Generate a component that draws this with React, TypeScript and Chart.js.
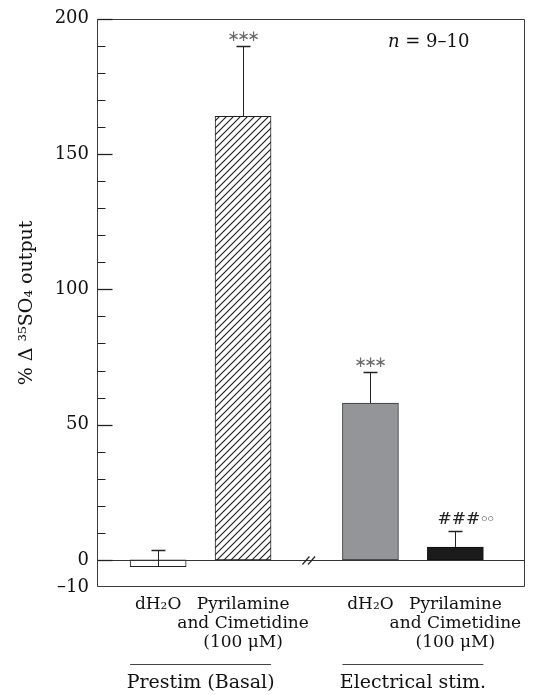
import React, { useEffect, useRef } from 'react';
import { Chart, registerables } from 'chart.js';

Chart.register(...registerables);

// ---- data ----
const categoryLabels: string[][] = [
  ['dH₂O'],
  ['Pyrilamine', 'and Cimetidine', '(100 μM)'],
  ['dH₂O'],
  ['Pyrilamine', 'and Cimetidine', '(100 μM)'],
];
const categoryPositions = [0, 1, 2.5, 3.5];
const meanValues = [-2.5, 164, 58, 4.8];
const semValues = [6, 26, 11.5, 6];
const significanceMarks = ['', '∗∗∗', '∗∗∗', '###'];
const secondaryMarks = ['', '', '', '◦◦'];
const groupLabels = ['Prestim (Basal)', 'Electrical stim.'];
const groupMembers = [
  [0, 1],
  [2, 3],
];
const yTickValues = [-10, 0, 10, 20, 30, 40, 50, 60, 70, 80, 90, 100, 110, 120, 130, 140, 150, 160, 170, 180, 190, 200];
const yLabelledTicks = [-10, 0, 50, 100, 150, 200];
const sampleSizeNote = ' = 9–10';

const SERIF = '"DejaVu Serif", serif';
const SANS = '"DejaVu Sans", sans-serif';

function makeHatch(): CanvasPattern | string {
  const s = 7;
  const c = document.createElement('canvas');
  c.width = s;
  c.height = s;
  const g = c.getContext('2d');
  if (!g) return '#fff';
  g.fillStyle = '#fff';
  g.fillRect(0, 0, s, s);
  g.strokeStyle = '#1a1a1a';
  g.lineWidth = 1.1;
  g.beginPath();
  g.moveTo(0, s);
  g.lineTo(s, 0);
  g.moveTo(-1, 1);
  g.lineTo(1, -1);
  g.moveTo(s - 1, s + 1);
  g.lineTo(s + 1, s - 1);
  g.stroke();
  const p = g.createPattern(c, 'repeat');
  return p || '#fff';
}

const overlayPlugin = {
  id: 'overlay',
  afterDatasetsDraw(chart: any) {
    const { ctx, chartArea: a, scales } = chart;
    const x = scales.x;
    const y = scales.y;
    ctx.save();

    // frame
    ctx.strokeStyle = '#3a3a3a';
    ctx.lineWidth = 1;
    const L = Math.round(a.left) + 0.5;
    const R = Math.round(a.right) - 0.5;
    const T = Math.round(a.top) + 0.5;
    const B = Math.round(a.bottom) - 0.5;
    ctx.beginPath();
    ctx.moveTo(L, T);
    ctx.lineTo(R, T);
    ctx.lineTo(R, B);
    ctx.lineTo(L, B);
    ctx.closePath();
    ctx.stroke();

    // zero line
    const y0 = Math.round(y.getPixelForValue(0)) + 0.5;
    ctx.strokeStyle = '#333';
    ctx.beginPath();
    ctx.moveTo(L, y0);
    ctx.lineTo(R, y0);
    ctx.stroke();

    // inward ticks
    ctx.strokeStyle = '#222';
    yTickValues.forEach((v) => {
      if (v === yTickValues[0]) return;
      const len = yLabelledTicks.includes(v) ? 15 : 8;
      const py = Math.round(y.getPixelForValue(v)) + 0.5;
      ctx.lineWidth = yLabelledTicks.includes(v) ? 1.3 : 1;
      ctx.beginPath();
      ctx.moveTo(L, py);
      ctx.lineTo(L + len, py);
      ctx.stroke();
    });

    // break marks between groups
    const cx = x.getPixelForValue((categoryPositions[1] + categoryPositions[2]) / 2) + 2;
    ctx.strokeStyle = '#222';
    ctx.lineWidth = 1.2;
    [-2.8, 2.8].forEach((d) => {
      ctx.beginPath();
      ctx.moveTo(cx + d - 3.5, y0 + 4);
      ctx.lineTo(cx + d + 3.5, y0 - 4);
      ctx.stroke();
    });

    // error bars + significance
    categoryPositions.forEach((pos, i) => {
      const px = Math.round(x.getPixelForValue(pos)) + 0.5;
      const yv = y.getPixelForValue(meanValues[i]);
      const ye = Math.round(y.getPixelForValue(meanValues[i] + semValues[i])) + 0.5;
      ctx.strokeStyle = '#222';
      ctx.lineWidth = 1;
      ctx.beginPath();
      ctx.moveTo(px, yv);
      ctx.lineTo(px, ye);
      ctx.stroke();
      ctx.lineWidth = 1.5;
      ctx.beginPath();
      ctx.moveTo(px - 7, ye);
      ctx.lineTo(px + 7, ye);
      ctx.stroke();

      const mark = significanceMarks[i];
      if (mark.startsWith('∗')) {
        ctx.fillStyle = '#6a6a6a';
        ctx.font = `15px ${SANS}`;
        ctx.textAlign = 'center';
        ctx.textBaseline = 'middle';
        const chars = Array.from(mark);
        chars.forEach((ch, k) => {
          ctx.fillText(ch, px + (k - (chars.length - 1) / 2) * 10, ye - 9);
        });
      } else if (mark) {
        ctx.fillStyle = '#222';
        ctx.font = `17px ${SERIF}`;
        ctx.textAlign = 'left';
        ctx.textBaseline = 'middle';
        const sx = px - 18;
        ctx.fillText(mark, sx, ye - 12);
        const w = ctx.measureText(mark).width;
        ctx.font = `17px ${SANS}`;
        ctx.fillStyle = '#444';
        ctx.textAlign = 'center';
        Array.from(secondaryMarks[i]).forEach((ch, k) => {
          ctx.fillText(ch, sx + w + 4 + k * 6.5, ye - 11);
        });
      }
    });

    // n note
    ctx.fillStyle = '#111';
    ctx.textAlign = 'left';
    ctx.textBaseline = 'alphabetic';
    ctx.font = `italic 18px ${SERIF}`;
    const nx = a.right - 137;
    const ny = a.top + 28;
    ctx.fillText('n', nx, ny);
    const nw = ctx.measureText('n').width;
    ctx.font = `18px ${SERIF}`;
    ctx.fillText(sampleSizeNote, nx + nw, ny);

    // group labels
    groupMembers.forEach((members, gi) => {
      const meta = chart.getDatasetMeta(0);
      const first = meta.data[members[0]];
      const last = meta.data[members[members.length - 1]];
      const left = first.x - first.width / 2;
      const right = last.x + last.width / 2;
      const ly = Math.round(a.bottom + 77) + 0.5;
      ctx.strokeStyle = '#444';
      ctx.lineWidth = 1;
      ctx.beginPath();
      ctx.moveTo(left, ly);
      ctx.lineTo(right, ly);
      ctx.stroke();
      ctx.fillStyle = '#111';
      ctx.font = `19px ${SERIF}`;
      ctx.textAlign = 'center';
      ctx.textBaseline = 'middle';
      ctx.fillText(groupLabels[gi], (left + right) / 2, a.bottom + 96);
    });

    ctx.restore();
  },
};

export default function App() {
  const ref = useRef<HTMLCanvasElement | null>(null);

  useEffect(() => {
    document.body.style.margin = '0';
    const canvas = ref.current;
    if (!canvas) return;
    const hatch = makeHatch();
    const chart = new Chart(canvas, {
      type: 'bar',
      data: {
        datasets: [
          {
            data: categoryPositions.map((p, i) => ({ x: p, y: meanValues[i] })),
            backgroundColor: ['#ffffff', hatch as any, '#949598', '#1b1b1b'],
            borderColor: ['#222', '#222', '#333', '#111'],
            borderWidth: 1,
            barThickness: 56,
            borderSkipped: false,
          },
        ],
      },
      options: {
        responsive: false,
        animation: false,
        events: [],
        layout: { padding: { top: 18, right: 8, left: 0, bottom: 0 } },
        plugins: {
          legend: { display: false },
          tooltip: { enabled: false },
        },
        scales: {
          x: {
            type: 'linear',
            offset: false,
            min: -0.72,
            max: 4.32,
            grid: { display: false, drawTicks: false, offset: false },
            border: { display: false },
            afterBuildTicks: (scale: any) => {
              scale.ticks = categoryPositions.map((v) => ({ value: v }));
            },
            afterFit: (scale: any) => {
              scale.height = 108;
            },
            ticks: {
              autoSkip: false,
              maxRotation: 0,
              minRotation: 0,
              padding: 8,
              color: '#111',
              font: { family: SERIF, size: 17, lineHeight: 1.12 },
              callback: (_v: any, index: number) => categoryLabels[index],
            },
          },
          y: {
            type: 'linear',
            min: -10,
            max: 200,
            grid: { display: false, drawTicks: false },
            border: { display: false },
            afterBuildTicks: (scale: any) => {
              scale.ticks = yTickValues.map((v) => ({ value: v }));
            },
            afterFit: (scale: any) => {
              scale.width = 97;
            },
            ticks: {
              autoSkip: false,
              padding: 8,
              color: '#111',
              font: { family: SERIF, size: 18 },
              callback: (v: any) => {
                const n = Number(v);
                if (!yLabelledTicks.includes(n)) return '';
                return n < 0 ? '–' + Math.abs(n) : String(n);
              },
            },
            title: {
              display: true,
              text: '% Δ ³⁵SO₄ output',
              color: '#111',
              font: { family: SERIF, size: 19 },
              padding: { top: 16, bottom: 0 },
            },
          },
        },
      },
      plugins: [overlayPlugin],
    });
    return () => chart.destroy();
  }, []);

  return (
    <div style={{ width: 533, height: 695 }}>
      <canvas ref={ref} width={533} height={695} />
    </div>
  );
}
